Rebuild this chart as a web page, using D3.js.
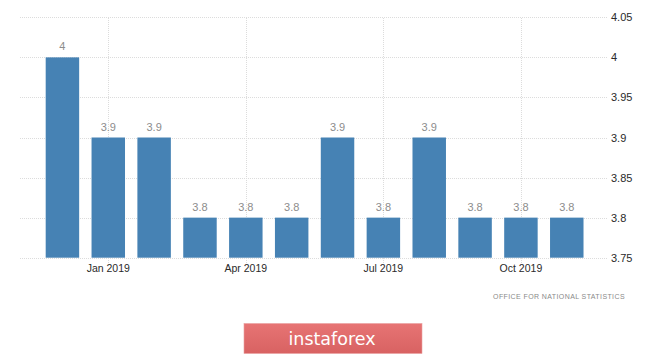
<!DOCTYPE html>
<html><head><meta charset="utf-8">
<script src="https://cdn.jsdelivr.net/npm/d3@7"></script>
<style>body{margin:0;background:#fff}svg{display:block}</style>
</head><body>
<svg id="c" width="665" height="354"></svg>
<script>
const months = ["Dec 2018","Jan 2019","Feb 2019","Mar 2019","Apr 2019","May 2019","Jun 2019","Jul 2019","Aug 2019","Sep 2019","Oct 2019","Nov 2019"];
const values = [4, 3.9, 3.9, 3.8, 3.8, 3.8, 3.9, 3.8, 3.9, 3.8, 3.8, 3.8];
const valueLabels = ["4","3.9","3.9","3.8","3.8","3.8","3.9","3.8","3.9","3.8","3.8","3.8"];
const yTicks = [3.75, 3.8, 3.85, 3.9, 3.95, 4, 4.05];
const xTickMonths = ["Jan 2019","Apr 2019","Jul 2019","Oct 2019"];
const source = "OFFICE FOR NATIONAL STATISTICS";
const brand = "instaforex";

const svg = d3.select("#c");
const font = "'Liberation Sans', Arial, sans-serif";

const x = d3.scaleBand().domain(months).range([39.5, 589.7]).paddingInner(0.27).paddingOuter(0.135);
const y = d3.scaleLinear().domain([3.75, 4.05]).range([257.7, 17.3]);

// horizontal gridlines
svg.append("g").selectAll("line").data(yTicks).join("line")
  .attr("x1", 20).attr("x2", 608)
  .attr("y1", d => Math.round(y(d)) + 0.5).attr("y2", d => Math.round(y(d)) + 0.5)
  .attr("stroke", "#dcdcdc").attr("stroke-dasharray", "1,1");

// vertical gridlines
svg.append("g").selectAll("line").data(xTickMonths).join("line")
  .attr("x1", d => Math.round(x(d) + x.bandwidth()/2) + 0.5)
  .attr("x2", d => Math.round(x(d) + x.bandwidth()/2) + 0.5)
  .attr("y1", 18).attr("y2", 263)
  .attr("stroke", "#dcdcdc").attr("stroke-dasharray", "1,1");

// bars
svg.append("g").selectAll("rect").data(values).join("rect")
  .attr("x", (d,i) => x(months[i])).attr("width", x.bandwidth())
  .attr("y", d => y(d)).attr("height", d => y(3.75) - y(d))
  .attr("fill", "#4682b4");

// value labels
svg.append("g").selectAll("text").data(values).join("text")
  .attr("x", (d,i) => x(months[i]) + x.bandwidth()/2)
  .attr("y", d => y(d) - 7)
  .attr("text-anchor", "middle")
  .attr("font-family", font).attr("font-size", 11).attr("fill", "#8c8c8c")
  .text((d,i) => valueLabels[i]);

// right axis labels
svg.append("g").selectAll("text").data(yTicks).join("text")
  .attr("x", 611).attr("y", d => y(d) + 4)
  .attr("font-family", font).attr("font-size", 11).attr("fill", "#2a2a2a")
  .text(d => d3.format("")(d));

// x axis labels
svg.append("g").selectAll("text").data(xTickMonths).join("text")
  .attr("x", d => x(d) + x.bandwidth()/2).attr("y", 272)
  .attr("text-anchor", "middle")
  .attr("font-family", font).attr("font-size", 10.5).attr("fill", "#2a2a2a")
  .text(d => d);

// source
svg.append("text").attr("x", 625).attr("y", 298.5).attr("text-anchor", "end")
  .attr("font-family", font).attr("font-size", 7).attr("letter-spacing", 0.4)
  .attr("fill", "#8a8a8a").text(source);

// brand box
const defs = svg.append("defs");
const g = defs.append("linearGradient").attr("id", "bg").attr("x1",0).attr("y1",0).attr("x2",0).attr("y2",1);
g.append("stop").attr("offset", "0%").attr("stop-color", "#e77474");
g.append("stop").attr("offset", "100%").attr("stop-color", "#d86262");
svg.append("rect").attr("x", 244).attr("y", 323.5).attr("width", 178).attr("height", 30)
  .attr("fill", "url(#bg)").attr("stroke", "#e9a0a0").attr("stroke-width", 0.6);
svg.append("text").attr("x", 332).attr("y", 344.5).attr("text-anchor", "middle")
  .attr("font-family", "'DejaVu Sans', sans-serif").attr("font-size", 17.5).attr("fill", "#fff")
  .text(brand);
</script>
</body></html>
